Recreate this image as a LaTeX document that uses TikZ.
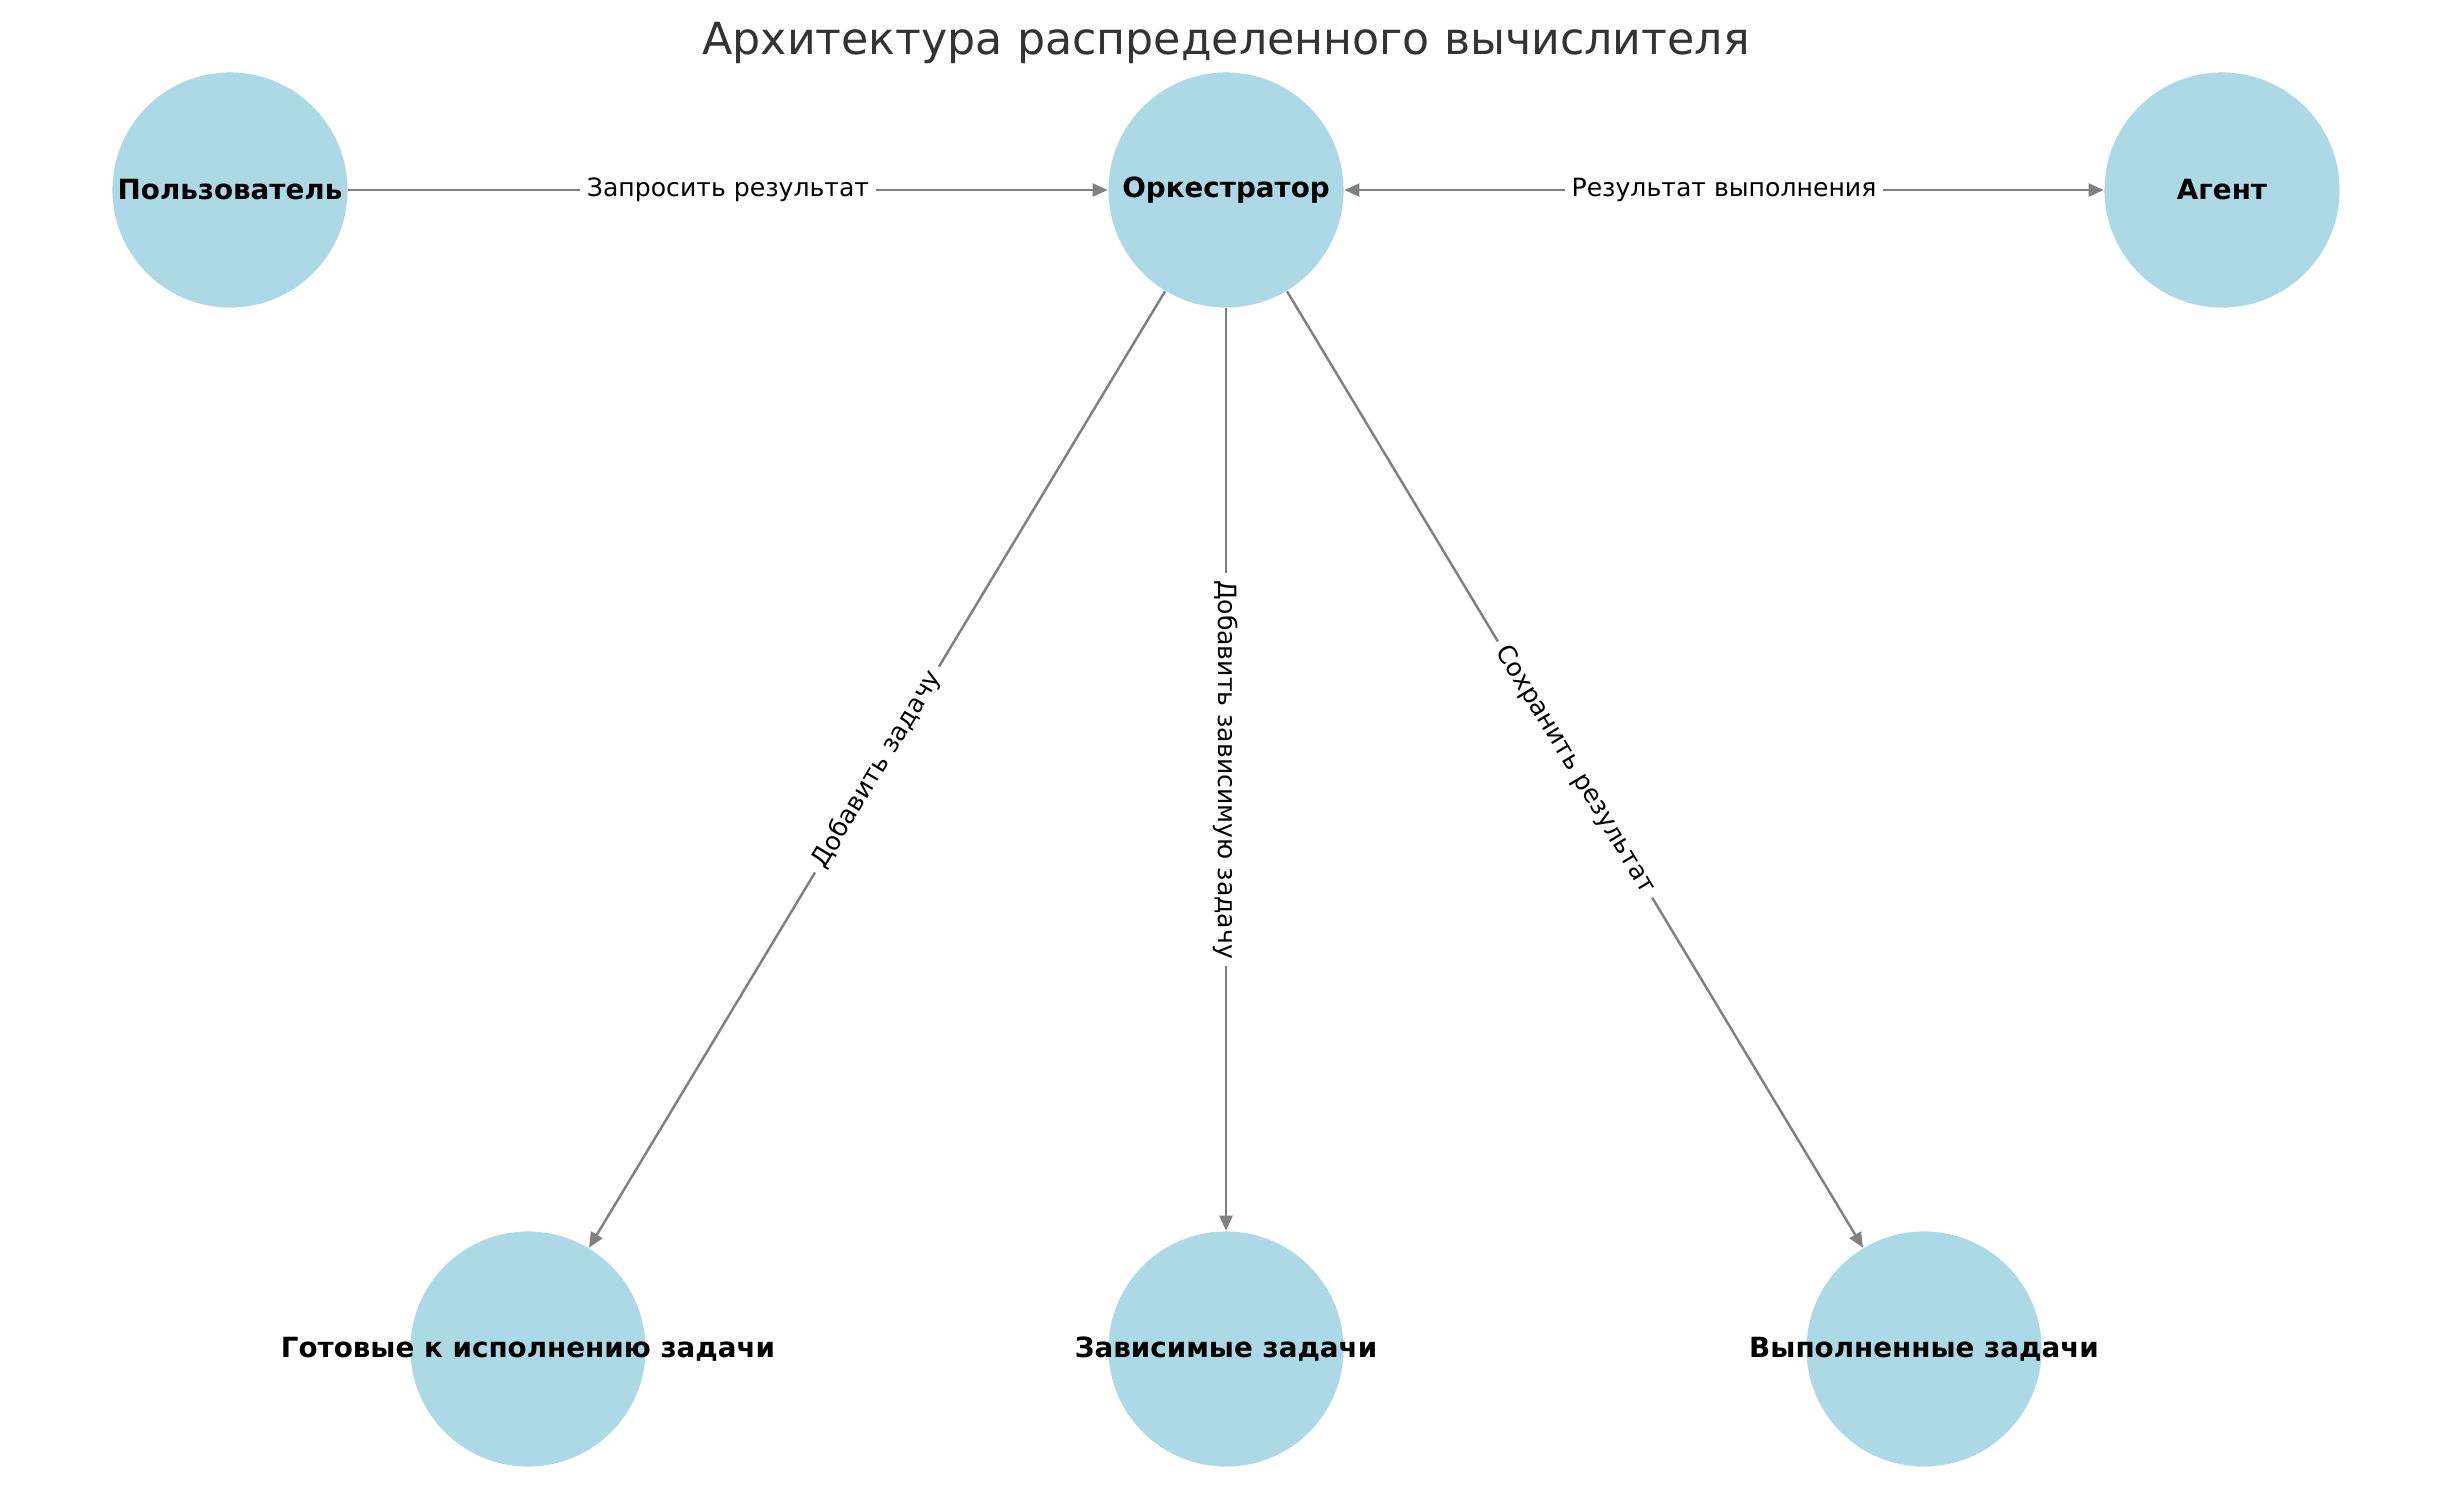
\documentclass[tikz,border=0pt]{standalone}
\usepackage{fontspec}
\setmainfont{DejaVu Sans}
\usetikzlibrary{arrows.meta}

\definecolor{nodeblue}{HTML}{ADD8E6}
\definecolor{titlegray}{HTML}{333333}

\tikzset{
  >={Triangle[length=4.3pt, width=3.7pt]},
  state/.style={circle, fill=nodeblue, minimum size=2.35cm, inner sep=0pt},
  statetext/.style={font=\bfseries\fontsize{7.9}{9.5}\selectfont},
  flow/.style={draw=gray, line width=0.7pt},
  flowlabel/.style={fill=white, inner sep=2pt, midway, sloped, font=\fontsize{7.15}{8.5}\selectfont}
}

\begin{document}
\begin{tikzpicture}[x=0.01cm, y=-0.01cm]

  % canvas
  \useasboundingbox (0,0) rectangle (2440,1490);

  % title
  \node[anchor=base, text=titlegray, font=\fontsize{12.6}{15}\selectfont] (title) at (1226,54)
    {Архитектура распределенного вычислителя};

  % nodes
  \node[state] (user)  at (230,190)   {};
  \node[state] (orch)  at (1226,190)  {};
  \node[state] (agent) at (2222,190)  {};
  \node[state] (ready) at (528,1349)  {};
  \node[state] (dep)   at (1226,1349) {};
  \node[state] (done)  at (1924,1349) {};

  % edges
  \draw[flow, ->]  (user) -- node[flowlabel] {Запросить результат} (orch);
  \draw[flow, <->] (orch) -- node[flowlabel] {Результат выполнения} (agent);
  \draw[flow, ->]  (orch) -- node[flowlabel] {Добавить задачу} (ready);
  \draw[flow, ->]  (orch) -- node[flowlabel] {Добавить зависимую задачу} (dep);
  \draw[flow, ->]  (orch) -- node[flowlabel] {Сохранить результат} (done);

  % node texts
  \foreach \n/\t in {user/Пользователь, orch/Оркестратор, agent/Агент,
                     ready/Готовые к исполнению задачи, dep/Зависимые задачи,
                     done/Выполненные задачи}
    \node[statetext] (\n-text) at (\n) {\t};

\end{tikzpicture}
\end{document}
